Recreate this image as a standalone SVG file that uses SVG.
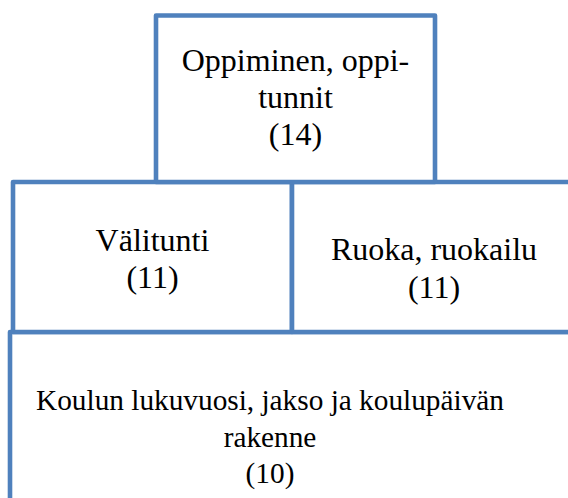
<svg xmlns="http://www.w3.org/2000/svg" width="568" height="498" viewBox="0 0 568 498">
  <style>
    .box { fill: #ffffff; stroke: #4f81bd; stroke-width: 4.6; stroke-linejoin: round; }
    .lbl { font-family: 'Liberation Serif', serif; font-size: 32px; fill: #000000; text-anchor: middle; }
    .lbl.small { font-size: 29.3px; }
  </style>
  <rect width="568" height="498" fill="#ffffff"/>

  <!-- bottom tier -->
  <g id="node-koulun-lukuvuosi">
    <rect class="box" x="10" y="332" width="590" height="200"/>
    <text class="lbl small" font-family="Liberation Serif" x="270" y="410">Koulun lukuvuosi, jakso ja koulupäivän</text>
    <text class="lbl small" font-family="Liberation Serif" x="270" y="447">rakenne</text>
    <text class="lbl small" font-family="Liberation Serif" x="270" y="483">(10)</text>
  </g>

  <!-- middle tier -->
  <g id="node-valitunti">
    <rect class="box" x="13" y="182" width="279" height="150"/>
    <text class="lbl" font-family="Liberation Serif" x="152.5" y="251">Välitunti</text>
    <text class="lbl" font-family="Liberation Serif" x="152.5" y="288">(11)</text>
  </g>
  <g id="node-ruoka">
    <rect class="box" x="292" y="182" width="284" height="150"/>
    <text class="lbl" font-family="Liberation Serif" x="434" y="260">Ruoka, ruokailu</text>
    <text class="lbl" font-family="Liberation Serif" x="434" y="298">(11)</text>
  </g>

  <!-- top tier -->
  <g id="node-oppiminen">
    <rect class="box" x="156" y="15.5" width="279" height="166.5"/>
    <text class="lbl" font-family="Liberation Serif" x="295.5" y="71">Oppiminen, oppi-</text>
    <text class="lbl" font-family="Liberation Serif" x="295.5" y="108">tunnit</text>
    <text class="lbl" font-family="Liberation Serif" x="295.5" y="145">(14)</text>
  </g>
</svg>
